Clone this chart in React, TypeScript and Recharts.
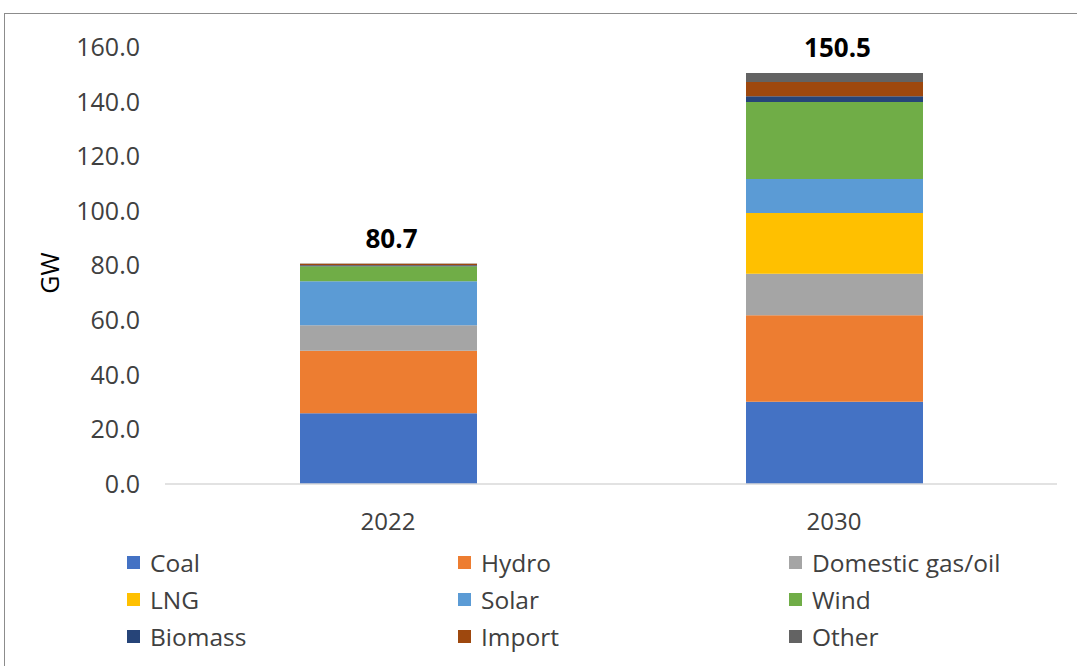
import { BarChart, Bar, XAxis, YAxis, Legend, LabelList } from 'recharts'

const years = ['2022', '2030']
const coal = [25.9, 30.1]
const hydro = [22.9, 31.7]
const domesticGas = [9.3, 15.2]
const lng = [0, 22.2]
const solar = [16.1, 12.5]
const wind = [5.5, 28.2]
const biomass = [0.4, 2.1]
const imports = [0.5, 5.2]
const other = [0.1, 3.3]
const totals = [80.7, 150.5]
const yTicks = [0, 20, 40, 60, 80, 100, 120, 140, 160]

const series = [
    { key: 'coal', name: 'Coal', color: '#4472C4' },
    { key: 'hydro', name: 'Hydro', color: '#ED7D31' },
    { key: 'gas', name: 'Domestic gas/oil', color: '#A5A5A5' },
    { key: 'lng', name: 'LNG', color: '#FFC000' },
    { key: 'solar', name: 'Solar', color: '#5B9BD5' },
    { key: 'wind', name: 'Wind', color: '#70AD47' },
    { key: 'biomass', name: 'Biomass', color: '#264478' },
    { key: 'import', name: 'Import', color: '#9E480E' },
    { key: 'other', name: 'Other', color: '#636363' },
]

const data = years.map((year, i) => ({
    year,
    coal: coal[i],
    hydro: hydro[i],
    gas: domesticGas[i],
    lng: lng[i],
    solar: solar[i],
    wind: wind[i],
    biomass: biomass[i],
    import: imports[i],
    other: other[i],
}))

const FONT = '"Open Sans", sans-serif'

function LegendGrid() {
    return (
        <div style={{ display: 'grid', gridTemplateColumns: '331px 331px 331px', rowGap: 9, fontFamily: FONT }}>
            {series.map(s => (
                <div key={s.key} style={{ display: 'flex', alignItems: 'center', height: 28 }}>
                    <span style={{ width: 13, height: 13, background: s.color, marginRight: 10, display: 'inline-block' }} />
                    <span style={{ fontSize: 24.5, color: '#404040' }}>{s.name}</span>
                </div>
            ))}
        </div>
    )
}

function TotalLabel(props: any) {
    const { x, y, width, index } = props
    return (
        <text x={x + width / 2 + 3} y={y - 16} textAnchor="middle" fontSize={26} fontWeight="bold" fill="#000" fontFamily={FONT}>
            {totals[index].toFixed(1)}
        </text>
    )
}

export default function App() {
    return (
        <div style={{ position: 'absolute', left: 4, top: 13, width: 1090, height: 680, border: '1px solid #8c8c8c', background: '#fff' }}>
            <style>{'body{margin:0;overflow:hidden}'}</style>
            <BarChart width={1072} height={652} data={data} margin={{ top: 33, right: 20, left: 0, bottom: 122 }} barSize={177}>
                <XAxis
                    dataKey="year"
                    height={60}
                    tickLine={false}
                    axisLine={{ stroke: '#d9d9d9', strokeWidth: 1.5 }}
                    tickMargin={23}
                    tick={{ fill: '#404040', fontSize: 24, fontFamily: FONT }}
                />
                <YAxis
                    width={160}
                    domain={[0, 160]}
                    ticks={yTicks}
                    tickFormatter={(v: number) => v.toFixed(1)}
                    axisLine={false}
                    tickLine={false}
                    tickMargin={19}
                    tick={{ fill: '#404040', fontSize: 25, fontFamily: FONT }}
                    label={{
                        content: () => (
                            <text x={44} y={259} transform="rotate(-90 44 259)" textAnchor="middle" dominantBaseline="central" fontSize={25} fill="#000" fontFamily={FONT}>
                                GW
                            </text>
                        ),
                    }}
                />
                <Legend
                    layout="horizontal"
                    verticalAlign="middle"
                    align="center"
                    content={<LegendGrid />}
                    wrapperStyle={{ top: 534, left: 122, width: 1000, height: 120 }}
                />
                {series.map((s, i) => (
                    <Bar key={s.key} dataKey={s.key} name={s.name} stackId="a" fill={s.color} isAnimationActive={false}>
                        {i === series.length - 1 && <LabelList content={<TotalLabel />} />}
                    </Bar>
                ))}
            </BarChart>
        </div>
    )
}
